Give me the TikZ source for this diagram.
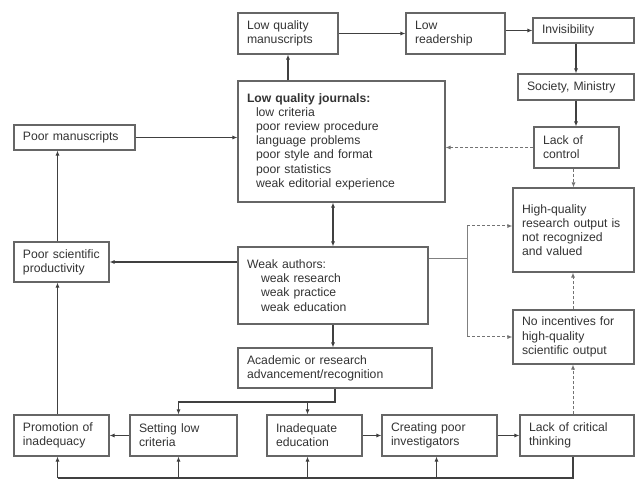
\documentclass[tikz,border=0pt]{standalone}
\usepackage{fontspec}
\setmainfont{Liberation Sans}
\usepackage{tikz}
\usetikzlibrary{arrows.meta,positioning}

\begin{document}
\begin{tikzpicture}[x=1pt, y=-1pt, >={Latex[length=5pt,width=4pt]},
    every node/.style={font=\fontsize{12.2}{14.2}\selectfont, text=black!80},
    blk/.style={draw=black!60, line width=1.1pt, inner xsep=9pt, inner ysep=0pt, align=left},
    link/.style={draw=black!75, line width=1.4pt},
    faint/.style={draw=black!50, line width=0.8pt},
    weak/.style={draw=black!55, line width=1pt, dash pattern=on 3pt off 2pt}]
    \useasboundingbox (0,0) rectangle (635,494);

    % Top row
    \node[blk, text width=82pt, minimum height=41pt] (lqm) at (288,33.5) {Low quality\\manuscripts};
    \node[blk, text width=81pt, minimum height=41pt] (lread) at (455.5,33.5) {Low\\readership};
    \node[blk, text width=83pt, minimum height=25pt] (invis) at (583.5,30.5) {Invisibility};

    % Right column
    \node[blk, text width=98pt, minimum height=26pt] (soc) at (576,87) {Society, Ministry};
    \node[blk, text width=67pt, minimum height=41pt] (lctrl) at (576.5,147.5) {Lack of\\control};
    \node[blk, text width=103pt, minimum height=84pt] (hq) at (573.5,230) {High-quality\\research output is\\not recognized\\and valued};
    \node[blk, text width=103pt, minimum height=54pt] (noinc) at (573.5,337) {No incentives for\\high-quality\\scientific output};

    % Centre column
    \node[blk, text width=189pt, minimum height=121pt] (lqj) at (341.5,141.5) {\textbf{Low quality journals:}\\
        \hspace*{9pt}low criteria\\
        \hspace*{9pt}poor review procedure\\
        \hspace*{9pt}language problems\\
        \hspace*{9pt}poor style and format\\
        \hspace*{9pt}poor statistics\\
        \hspace*{9pt}weak editorial experience};
    \node[blk, text width=172pt, minimum height=77pt] (wauth) at (333,285.5) {Weak authors:\\
        \hspace*{14pt}weak research\\
        \hspace*{14pt}weak practice\\
        \hspace*{14pt}weak education};
    \node[blk, text width=176pt, minimum height=40pt] (acad) at (335,368) {Academic or research\\advancement/recognition};

    % Left column
    \node[blk, text width=103pt, minimum height=25pt] (pman) at (74.5,137.5) {Poor manuscripts};
    \node[blk, text width=77pt, minimum height=40pt] (psp) at (61.5,262) {Poor scientific\\productivity};

    % Bottom row
    \node[blk, text width=77pt, minimum height=41pt] (prom) at (61.5,435.5) {Promotion of\\inadequacy};
    \node[blk, text width=89pt, minimum height=41pt] (slow) at (183.5,435.5) {Setting low\\criteria};
    \node[blk, text width=77pt, minimum height=41pt] (inad) at (314.5,435.5) {Inadequate\\education};
    \node[blk, text width=97pt, minimum height=41pt] (cpoor) at (439.5,435.5) {Creating poor\\investigators};
    \node[blk, text width=96pt, minimum height=41pt] (lcrit) at (577,435.5) {Lack of critical\\thinking};

    \coordinate (fork) at (0,402);
    \coordinate (base) at (0,478);
    \coordinate (split) at (467,258);

    % Top chain
    \draw[link, ->] (lqj.north -| lqm) -- (lqm.south);
    \draw[link, ->] (lqm.east) -- (lread.west);
    \draw[link, ->] (lread.east |- invis) -- (invis.west);
    \draw[link, ->] (invis.south -| soc) -- (soc.north);
    \draw[link, ->] (soc.south) -- (soc.south |- lctrl.north);
    \draw[weak, ->] (lctrl.west) -- (lctrl.west -| lqj.east);
    \draw[weak, ->] ([xshift=-3pt]lctrl.south) -- ([xshift=-3pt]lctrl.south |- hq.north);

    % Left side
    \draw[link, ->] (pman.east) -- (pman.east -| lqj.west);
    \draw[link, ->] ([xshift=-4pt]psp.north) -- ([xshift=-4pt]psp.north |- pman.south);
    \draw[link, ->] ([xshift=-4pt]prom.north) -- ([xshift=-4pt]prom.north |- psp.south);
    \draw[link, ->] (wauth.west |- psp) -- (psp.east);

    % Centre
    \draw[link, <->] (lqj.south -| wauth) -- (wauth.north);
    \draw[link, ->] (wauth.south) -- (wauth.south |- acad.north);
    \draw[link, ->] (acad.south) -- (acad.south |- fork) -| ([xshift=-5pt]slow.north);
    \draw[link, ->] (acad.south |- fork) -| ([xshift=-7pt]inad.north);

    % Incentives
    \draw[faint] (wauth.east |- split) -- (split);
    \draw[faint] (split |- 0,226) -- (split |- noinc.west);
    \draw[weak, ->] (split |- 0,226) -- (hq.west |- 0,226);
    \draw[weak, ->] (split |- noinc.west) -- (noinc.west);
    \draw[weak, ->] ([xshift=-4pt]lcrit.north) -- ([xshift=-4pt]lcrit.north |- noinc.south);
    \draw[weak, ->] ([xshift=-0.5pt]noinc.north) -- ([xshift=-0.5pt]noinc.north |- hq.south);

    % Bottom chain
    \draw[link, ->] (slow.west) -- (prom.east);
    \draw[link, ->] (inad.east) -- (cpoor.west);
    \draw[link, ->] (cpoor.east) -- (lcrit.west);
    \draw[link] ([xshift=-4pt]lcrit.south) -- ([xshift=-4pt]lcrit.south |- base) -- ([xshift=-4pt]prom.south |- base);
    \foreach \n/\dx in {prom/-4, slow/-5, inad/-7, cpoor/-3}
        \draw[link, ->] ([xshift=\dx pt]\n.south |- base) -- ([xshift=\dx pt]\n.south);
\end{tikzpicture}
\end{document}
